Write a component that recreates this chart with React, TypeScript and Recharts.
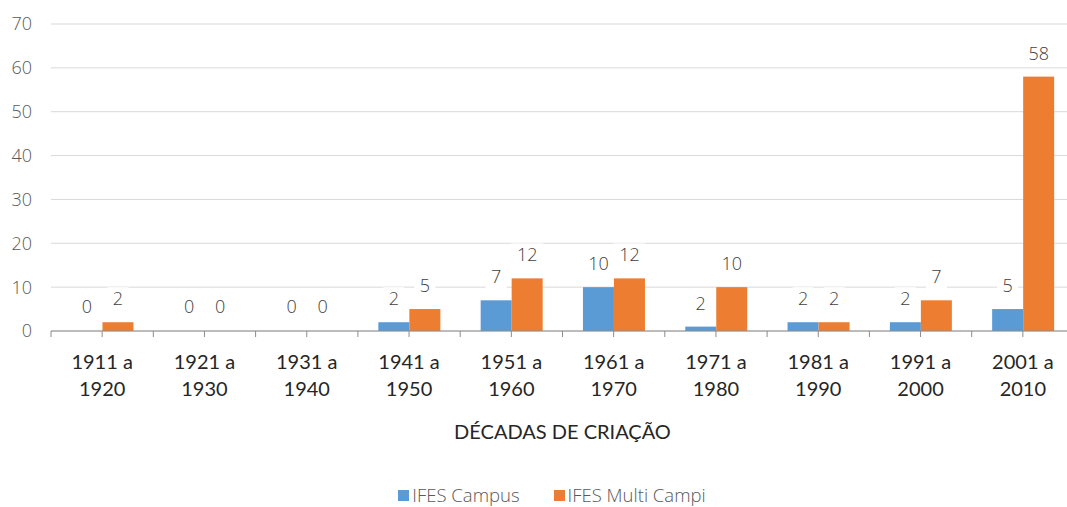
import React from 'react'
import { BarChart, Bar, XAxis, YAxis, CartesianGrid, Legend, LabelList } from 'recharts'

// decades of creation
const decades = ['1911 a 1920', '1921 a 1930', '1931 a 1940', '1941 a 1950', '1951 a 1960', '1961 a 1970', '1971 a 1980', '1981 a 1990', '1991 a 2000', '2001 a 2010']
const campusValues = [0, 0, 0, 2, 7, 10, 1, 2, 2, 5]
const campusLabels = ['0', '0', '0', '2', '7', '10', '2', '2', '2', '5']
const multiValues = [2, 0, 0, 5, 12, 12, 10, 2, 7, 58]
const multiLabels = ['2', '0', '0', '5', '12', '12', '10', '2', '7', '58']
const yTicks = [0, 10, 20, 30, 40, 50, 60, 70]

const BLUE = '#5B9BD5'
const ORANGE = '#ED7D31'
const NUM_FONT = '"Open Sans", sans-serif'
const CAT_FONT = 'Lato, sans-serif'

const chartData = decades.map((d, i) => ({
  decade: d,
  campus: campusValues[i],
  multi: multiValues[i],
  campusLabel: campusLabels[i],
  multiLabel: multiLabels[i],
}))

// white box behind each value label, like the original
const ValueLabel = (props: any) => {
  const { x, y, width, height, value } = props
  const text = String(value)
  const cx = x + width / 2
  const top = height < 0 ? y + height : y
  const cy = top - 23
  const w = text.length * 11 + 10
  return (
    <g>
      <rect x={cx - w / 2} y={cy - 12} width={w} height={24} fill="#fff" />
      <text x={cx} y={cy + 6} textAnchor="middle" fontSize={18} fontWeight={300} fontFamily={NUM_FONT} fill="#404040">
        {text}
      </text>
    </g>
  )
}

// hide the stub drawn for zero values (kept only so the label shows)
const BarShape = (props: any) => {
  const { x, y, width, height, fill, value } = props
  const v = Array.isArray(value) ? value[1] - value[0] : value
  if (!v) return <g />
  return <rect x={x} y={y} width={width} height={height} fill={fill} />
}

const DecadeTick = (props: any) => {
  const { x, y, payload, index, visibleTicksCount } = props
  const half = payload.offset || 51
  const [a, b] = String(payload.value).split(' a ')
  const top = y - 6
  return (
    <g>
      <line x1={x} x2={x} y1={top} y2={y} stroke="#8c8c8c" />
      <line x1={x - half} x2={x - half} y1={top} y2={y} stroke="#8c8c8c" />
      {index === visibleTicksCount - 1 && (
        <line x1={x + half} x2={x + half} y1={top} y2={y} stroke="#8c8c8c" />
      )}
      <text x={x} y={y + 32} textAnchor="middle" fontSize={20} fontFamily={CAT_FONT} fill="#262626">
        {a + ' a'}
      </text>
      <text x={x} y={y + 59} textAnchor="middle" fontSize={20} fontFamily={CAT_FONT} fill="#262626">
        {b}
      </text>
    </g>
  )
}

const LegendContent = () => (
  <div style={{ display: 'flex', justifyContent: 'center', gap: 34, height: 24, lineHeight: '24px', fontFamily: NUM_FONT, fontWeight: 300, fontSize: 18.5, color: '#595959', paddingLeft: 30 }}>
    {[
      { name: 'IFES Campus', color: BLUE },
      { name: 'IFES Multi Campi', color: ORANGE },
    ].map((item) => (
      <span key={item.name} style={{ display: 'flex', alignItems: 'center', whiteSpace: 'nowrap' }}>
        <span style={{ width: 11, height: 11, background: item.color, marginRight: 3, display: 'inline-block' }} />
        {item.name}
      </span>
    ))}
  </div>
)

const App: React.FC = () => {
  // the original plot runs a little past the right edge of the picture
  return (
    <div style={{ position: 'absolute', left: 0, top: 0, width: 1067, height: 507, overflow: 'hidden', background: '#fff' }}>
      <BarChart
        width={1074}
        height={507}
        data={chartData}
        margin={{ top: 24, right: 0, left: 0, bottom: 42 }}
        barCategoryGap="20%"
        barGap={0}
      >
        <CartesianGrid vertical={false} stroke="#d9d9d9" />
        <XAxis
          dataKey="decade"
          height={110}
          interval={0}
          tickSize={6}
          tickMargin={0}
          tickLine={false}
          axisLine={{ stroke: '#8c8c8c' }}
          tick={<DecadeTick />}
          label={{
            value: 'DÉCADAS DE CRIAÇÃO',
            position: 'insideBottom',
            offset: 2,
            fontSize: 20,
            fontFamily: CAT_FONT,
            fill: '#262626',
          }}
        />
        <YAxis
          width={51}
          domain={[0, 70]}
          ticks={yTicks}
          axisLine={false}
          tickLine={false}
          tickSize={0}
          tickMargin={19}
          tick={{ fontSize: 18, fontWeight: 300, fontFamily: NUM_FONT, fill: '#595959' }}
        />
        <Legend
          content={<LegendContent />}
          height={24}
          wrapperStyle={{ top: 483, left: 0, width: 1074 }}
        />
        <Bar dataKey="campus" name="IFES Campus" fill={BLUE} minPointSize={1} shape={<BarShape />} isAnimationActive={false}>
          <LabelList dataKey="campusLabel" content={<ValueLabel />} />
        </Bar>
        <Bar dataKey="multi" name="IFES Multi Campi" fill={ORANGE} minPointSize={1} shape={<BarShape />} isAnimationActive={false}>
          <LabelList dataKey="multiLabel" content={<ValueLabel />} />
        </Bar>
      </BarChart>
    </div>
  )
}

export default App
